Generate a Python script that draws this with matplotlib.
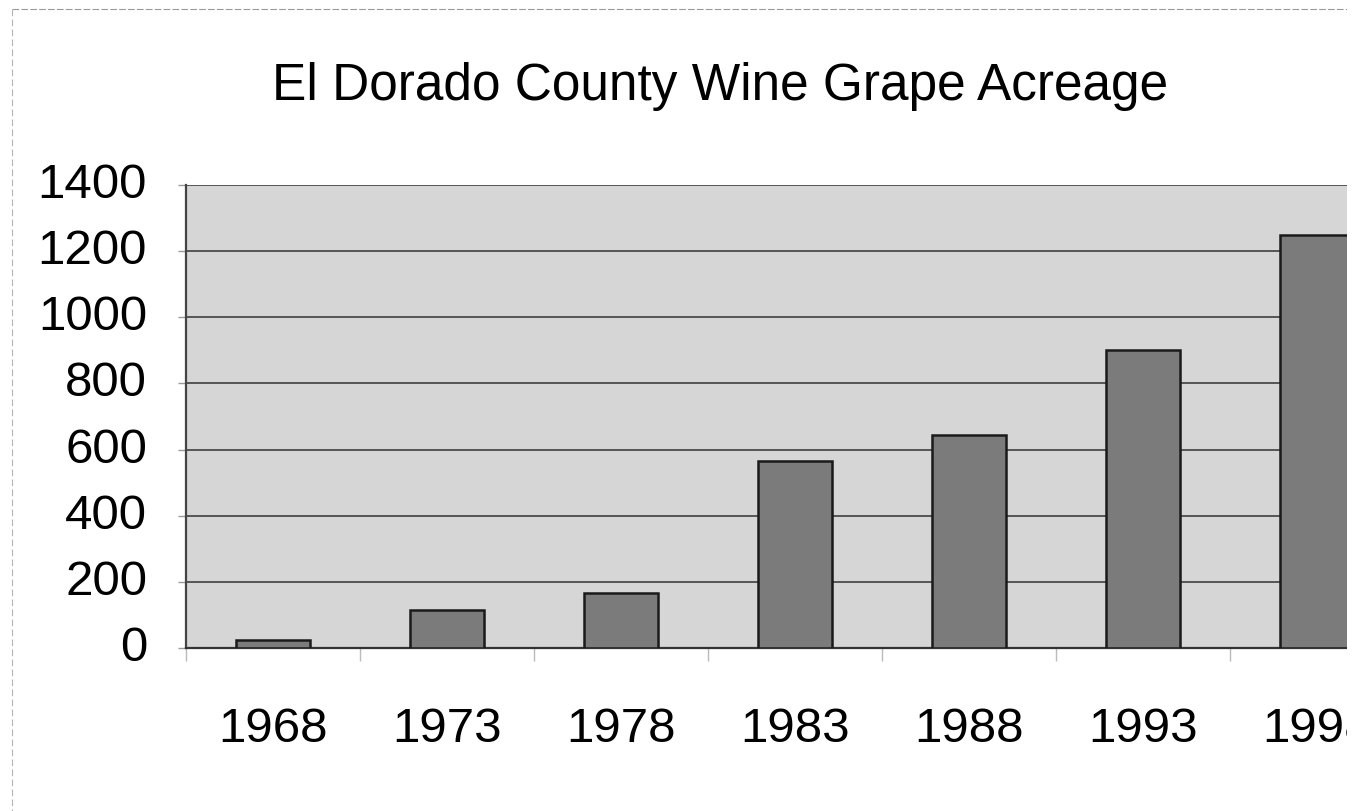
import numpy as np
import matplotlib.pyplot as plt
import matplotlib.transforms as mtransforms
from matplotlib.lines import Line2D
from matplotlib.patches import Rectangle

years = ['1968', '1973', '1978', '1983', '1988', '1993', '1998']
acreage = [25, 115, 165, 565, 645, 900, 1250]
y_ticks = [0, 200, 400, 600, 800, 1000, 1200, 1400]

plt.rcParams['font.family'] = ['Liberation Sans', 'DejaVu Sans']

W, H = 1357, 812
fig = plt.figure(figsize=(W / 100, H / 100), dpi=100)

# plot area runs past the right edge, so the last column is clipped
ax = fig.add_axes([186 / W, 163 / H, 1218 / W, 463 / H])
ax.set_facecolor('#d6d6d6')

x = np.arange(len(years))
ax.bar(x, acreage, width=0.42, color='#7b7b7b', edgecolor='#1a1a1a',
       linewidth=1.8, zorder=3)

ax.set_xlim(-0.5, len(years) - 0.5)
ax.set_ylim(0, 1400)
ax.set_yticks(y_ticks)
ax.set_yticklabels([str(v) for v in y_ticks], fontsize=35.5)
ax.yaxis.grid(True, color='#555555', linewidth=1.4, zorder=1)
ax.set_axisbelow(True)

# category labels centred on bars, tick marks on the boundaries
ax.set_xticks(x)
ax.set_xticklabels(years, fontsize=35.5)
ax.tick_params(axis='x', length=0, pad=42)
ax.set_xticks(np.arange(len(years) + 1) - 0.5, minor=True)
ax.tick_params(axis='x', which='minor', length=9, color='#bbbbbb', width=1)
ax.tick_params(axis='y', length=6, color='#999999', width=1, pad=22)

# value labels sit a little above their gridlines
lift = mtransforms.ScaledTranslation(0, 4 / 72, fig.dpi_scale_trans)
for lbl in ax.get_yticklabels():
    lbl.set_transform(lbl.get_transform() + lift)

for side in ['top', 'right']:
    ax.spines[side].set_visible(False)
ax.spines['left'].set_color('#444444')
ax.spines['left'].set_linewidth(1.6)
ax.spines['bottom'].set_color('#333333')
ax.spines['bottom'].set_linewidth(1.6)

fig.text(720 / W, 1 - 100 / H, 'El Dorado County Wine Grape Acreage',
         fontsize=37, ha='center', va='baseline')

# thin dashed frame of the chart object
fig.add_artist(Line2D([12 / W, 1350 / W], [1 - 10 / H, 1 - 10 / H],
                      transform=fig.transFigure, color='#9a9a9a',
                      linewidth=0.8, linestyle=(0, (6, 2))))
fig.add_artist(Line2D([12 / W, 12 / W], [1 - 10 / H, 0],
                      transform=fig.transFigure, color='#b5b5b5',
                      linewidth=0.8, linestyle=(0, (6, 3))))

# clipped right margin
fig.add_artist(Rectangle((1347 / W, 0), 10 / W, 1, transform=fig.transFigure,
                         facecolor='white', edgecolor='none', zorder=20))

fig.savefig('out.png', dpi=100, facecolor='white')
